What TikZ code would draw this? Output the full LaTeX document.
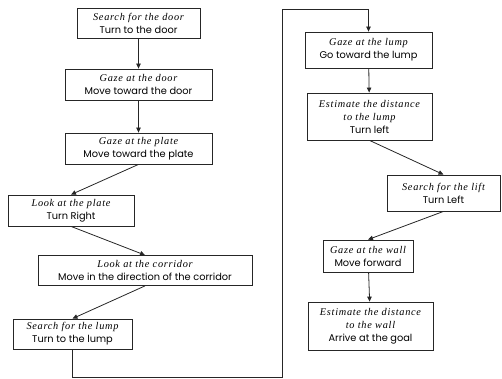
\documentclass[tikz,border=0pt]{standalone}
\usepackage{fontspec}
\setmainfont{Poppins}
\newfontfamily\itfont[LetterSpace=7]{Liberation Serif}
\usetikzlibrary{arrows.meta}
\newcommand{\itl}[1]{{\itfont\itshape\fontsize{10.3}{13}\selectfont #1}}
\begin{document}
\begin{tikzpicture}[x=1pt,y=-1pt,
  box/.style={draw=black!85,line width=0.8pt,rectangle,inner sep=0pt,align=center,
    font=\fontsize{9.8}{13}\selectfont},
  arr/.style={draw=black!85,line width=0.8pt,-{Triangle[length=5pt,width=4.5pt]}}]
\useasboundingbox (0,0) rectangle (502,379);
\node[box,minimum width=123pt,minimum height=30pt] (B1) at (138.5,23) {\itl{Search for the door}\\Turn to the door};
\node[box,minimum width=147pt,minimum height=31pt] (B2) at (138.5,84.5) {\itl{Gaze at the door}\\Move toward the door};
\node[box,minimum width=147pt,minimum height=31pt] (B3) at (138.5,148.5) {\itl{Gaze at the plate}\\Move toward the plate};
\node[box,minimum width=126pt,minimum height=31pt] (B4) at (71,210.5) {\itl{Look at the plate}\\Turn Right};
\node[box,minimum width=214pt,minimum height=30pt] (B5) at (145,270.5) {\itl{Look at the corridor}\\Move in the direction of the corridor};
\node[box,minimum width=119pt,minimum height=30pt] (B6) at (72.5,334) {\itl{Search for the lump}\\Turn to the lump};
\node[box,minimum width=127pt,minimum height=36pt] (B7) at (368.5,50) {\itl{Gaze at the lump}\\Go toward the lump};
\node[box,minimum width=125pt,minimum height=47pt] (B8) at (369.5,116.5) {\itl{Estimate the distance}\\\itl{to the lump}\\Turn left};
\node[box,minimum width=113pt,minimum height=36pt] (B9) at (443.5,193) {\itl{Search for the lift}\\Turn Left};
\node[box,minimum width=90pt,minimum height=32pt] (B10) at (368,256) {\itl{Gaze at the wall}\\Move forward};
\node[box,minimum width=125pt,minimum height=48pt] (B11) at (370.5,326) {\itl{Estimate the distance}\\\itl{to the wall}\\Arrive at the goal};
\coordinate (c1) at (282.5,377);
\coordinate (c2) at (282.5,9);
\draw[arr] (B1) -- (B2);
\draw[arr] (B2) -- (B3);
\draw[arr] (B3.south) -- (B4.north);
\draw[arr] (B4.south) -- (B5.north);
\draw[arr] (B5.south) -- (B6.north);
\draw[arr] (B6.south) |- (c1) -- (c2) -| (B7.north);
\draw[arr] (B7) -- (B8);
\draw[arr] (B8.south) -- (B9.north);
\draw[arr] (B9.south) -- (B10.north);
\draw[arr] (B10) -- (B11);
\end{tikzpicture}
\end{document}
